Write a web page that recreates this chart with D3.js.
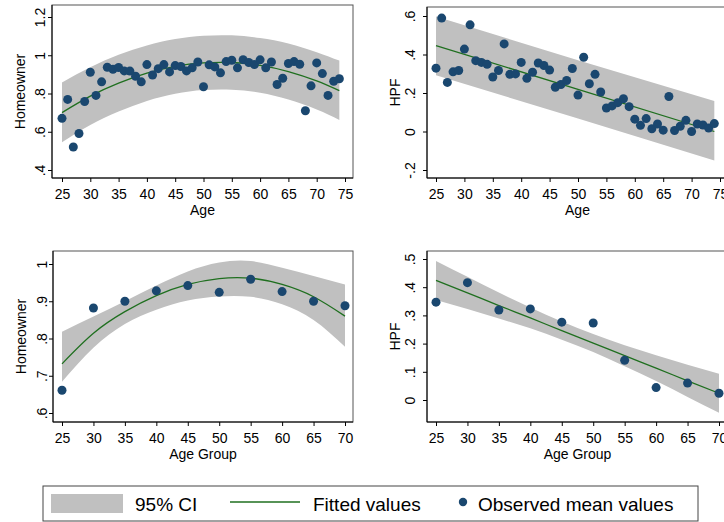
<!DOCTYPE html>
<html>
<head>
<meta charset="utf-8">
<script src="https://cdn.jsdelivr.net/npm/d3@7"></script>
<style>
  body { margin: 0; background: #fff; }
  svg { display: block; font-family: "Liberation Sans", Arial, Helvetica, sans-serif; }
</style>
</head>
<body>
<svg id="chart" width="724" height="522"></svg>
<script>
// single-year ages, top row
var ages = [25,26,27,28,29,30,31,32,33,34,35,36,37,38,39,40,41,42,43,44,
            45,46,47,48,49,50,51,52,53,54,55,56,57,58,59,60,61,62,63,64,
            65,66,67,68,69,70,71,72,73,74];

// observed means by age
var ownerByAge = [0.67,0.769,0.52,0.591,0.758,0.911,0.79,0.861,0.937,0.927,
                  0.936,0.918,0.917,0.89,0.861,0.951,0.897,0.93,0.951,0.913,
                  0.946,0.941,0.918,0.934,0.965,0.835,0.95,0.939,0.908,0.967,
                  0.974,0.934,0.977,0.962,0.951,0.976,0.934,0.965,0.847,0.88,
                  0.957,0.967,0.953,0.71,0.84,0.96,0.904,0.79,0.864,0.877];
var hpfByAge = [0.329,0.589,0.255,0.31,0.317,0.428,0.554,0.368,0.359,0.349,
                0.283,0.317,0.455,0.297,0.299,0.359,0.276,0.308,0.356,0.343,
                0.319,0.23,0.244,0.265,0.327,0.189,0.386,0.248,0.297,0.205,
                0.122,0.133,0.15,0.17,0.129,0.064,0.032,0.067,0.014,0.039,
                0.007,0.182,0.005,0.027,0.058,0.0,0.039,0.034,0.018,0.041];

// fitted values + 95% CI
var fitAgesOwner = [25,30,35,40,45,50,55,60,65,70,74];
var ownerFit = [0.700,0.786,0.854,0.906,0.942,0.960,0.962,0.947,0.915,0.866,0.815];
var ownerHi  = [0.858,0.937,1.002,1.051,1.085,1.102,1.104,1.090,1.062,1.016,0.972];
var ownerLo  = [0.545,0.635,0.706,0.761,0.799,0.818,0.820,0.804,0.768,0.716,0.662];

var fitAgesHpf = [25,50,74];
var hpfFit = [0.446,0.219,0.0];
var hpfHi  = [0.598,0.370,0.159];
var hpfLo  = [0.292,0.068,-0.150];

// age groups, bottom row
var ageGroups = [25,30,35,40,45,50,55,60,65,70];
var ownerByGroup = [0.661,0.882,0.900,0.928,0.942,0.924,0.959,0.926,0.900,0.888];
var ownerGroupFit = [0.732,0.814,0.872,0.915,0.945,0.961,0.962,0.945,0.912,0.860];
var ownerGroupHi  = [0.818,0.859,0.900,0.942,0.980,1.004,1.008,0.990,0.968,0.945];
var ownerGroupLo  = [0.684,0.775,0.839,0.877,0.902,0.913,0.912,0.892,0.850,0.778];

var hpfByGroup = [0.347,0.416,0.319,0.323,0.276,0.273,0.141,0.044,0.060,0.024];
var hpfGroupFit = [0.424,0.380,0.335,0.291,0.246,0.202,0.157,0.113,0.068,0.024];
var hpfGroupHi  = [0.493,0.437,0.381,0.328,0.278,0.234,0.194,0.159,0.125,0.093];
var hpfGroupLo  = [0.355,0.323,0.289,0.254,0.214,0.170,0.120,0.067,0.011,-0.045];

// ticks
var ageTicks = [25,30,35,40,45,50,55,60,65,70,75];
var groupTicks = [25,30,35,40,45,50,55,60,65,70];
var ownerTicks = [0.4,0.6,0.8,1,1.2];
var ownerTickLabels = [".4",".6",".8","1","1.2"];
var hpfTicks = [-0.2,0,0.2,0.4,0.6];
var hpfTickLabels = ["-.2","0",".2",".4",".6"];
var ownerGroupTicks = [0.6,0.7,0.8,0.9,1];
var ownerGroupTickLabels = [".6",".7",".8",".9","1"];
var hpfGroupTicks = [0,0.1,0.2,0.3,0.4,0.5];
var hpfGroupTickLabels = ["0",".1",".2",".3",".4",".5"];

var bandColor = "#c0c0c0", lineColor = "#1f6f1f", dotColor = "#1a476f";

var svg = d3.select("#chart");

var panels = [
  { frame: [52, 5, 353, 178], xr: [62, 345], xd: [25, 75], yd: [0.4, 1.2], yr: [170, 17],
    xTicks: ageTicks, yTicks: ownerTicks, yLabels: ownerTickLabels, xTitle: "Age", yTitle: "Homeowner",
    px: ages, py: ownerByAge, fx: fitAgesOwner, fit: ownerFit, hi: ownerHi, lo: ownerLo,
    curve: d3.curveNatural, tickGap: 7 },
  { frame: [427, 7, 728, 178], xr: [436, 720], xd: [25, 75], yd: [-0.2, 0.6], yr: [170, 16],
    xTicks: ageTicks, yTicks: hpfTicks, yLabels: hpfTickLabels, xTitle: "Age", yTitle: "HPF",
    px: ages, py: hpfByAge, fx: fitAgesHpf, fit: hpfFit, hi: hpfHi, lo: hpfLo,
    curve: d3.curveLinear, tickGap: 12 },
  { frame: [53, 251, 353, 422], xr: [62, 345], xd: [25, 70], yd: [0.6, 1], yr: [413, 264],
    xTicks: groupTicks, yTicks: ownerGroupTicks, yLabels: ownerGroupTickLabels, xTitle: "Age Group", yTitle: "Homeowner",
    px: ageGroups, py: ownerByGroup, fx: ageGroups, fit: ownerGroupFit, hi: ownerGroupHi, lo: ownerGroupLo,
    curve: d3.curveNatural, tickGap: 6 },
  { frame: [427, 251, 728, 422], xr: [436, 719], xd: [25, 70], yd: [0, 0.5], yr: [400, 259],
    xTicks: groupTicks, yTicks: hpfGroupTicks, yLabels: hpfGroupTickLabels, xTitle: "Age Group", yTitle: "HPF",
    px: ageGroups, py: hpfByGroup, fx: ageGroups, fit: hpfGroupFit, hi: hpfGroupHi, lo: hpfGroupLo,
    curve: d3.curveNatural, tickGap: 12 }
];

panels.forEach(drawPanel);

function drawPanel(p) {
  var l = p.frame[0], t = p.frame[1], r = p.frame[2], b = p.frame[3];
  var x = d3.scaleLinear().domain(p.xd).range(p.xr);
  var y = d3.scaleLinear().domain(p.yd).range(p.yr);
  var g = svg.append("g");

  g.append("rect")
    .attr("x", l).attr("y", t).attr("width", r - l).attr("height", b - t)
    .attr("fill", "#fff").attr("stroke", "#555").attr("stroke-width", 1);

  var band = p.fx.map(function(a, i) { return { a: a, lo: p.lo[i], hi: p.hi[i], f: p.fit[i] }; });

  g.append("path")
    .datum(band)
    .attr("fill", bandColor)
    .attr("d", d3.area().curve(p.curve)
      .x(function(d) { return x(d.a); })
      .y0(function(d) { return y(d.lo); })
      .y1(function(d) { return y(d.hi); }));

  g.append("path")
    .datum(band)
    .attr("fill", "none")
    .attr("stroke", lineColor)
    .attr("stroke-width", 1.3)
    .attr("d", d3.line().curve(p.curve)
      .x(function(d) { return x(d.a); })
      .y(function(d) { return y(d.f); }));

  g.selectAll("circle.obs")
    .data(p.px.map(function(a, i) { return [a, p.py[i]]; }))
    .enter().append("circle")
    .attr("class", "obs")
    .attr("cx", function(d) { return x(d[0]); })
    .attr("cy", function(d) { return y(d[1]); })
    .attr("r", 4.5)
    .attr("fill", dotColor);

  // x axis
  var xa = g.append("g").attr("transform", "translate(0," + b + ")")
    .call(d3.axisBottom(x).tickValues(p.xTicks).tickSize(4).tickSizeOuter(0).tickFormat(d3.format("d")));
  xa.select(".domain").remove();
  xa.selectAll("line").attr("stroke", "#000");
  xa.selectAll("text").attr("y", 21).attr("dy", 0)
    .style("font-size", "14px").attr("fill", "#000");

  // y axis, labels turned like Stata
  var ya = g.append("g").attr("transform", "translate(" + l + ",0)")
    .call(d3.axisLeft(y).tickValues(p.yTicks).tickSize(4).tickSizeOuter(0)
      .tickFormat(function(d, i) { return p.yLabels[i]; }));
  ya.select(".domain").remove();
  ya.selectAll("line").attr("stroke", "#000");
  ya.selectAll("text")
    .attr("x", 0).attr("y", -p.tickGap).attr("dy", 0)
    .attr("text-anchor", "middle")
    .attr("transform", "rotate(-90)")
    .style("font-size", "14px").attr("fill", "#000");

  g.append("line").attr("x1", l).attr("x2", l).attr("y1", t).attr("y2", b).attr("stroke", "#000");
  g.append("line").attr("x1", l).attr("x2", r).attr("y1", b).attr("y2", b).attr("stroke", "#000");

  g.append("text")
    .attr("x", (l + r) / 2).attr("y", b + 37)
    .attr("text-anchor", "middle")
    .style("font-size", "14px")
    .text(p.xTitle);

  g.append("text")
    .attr("transform", "translate(" + (l - 27) + "," + ((t + b) / 2) + ") rotate(-90)")
    .attr("text-anchor", "middle")
    .style("font-size", "14px")
    .text(p.yTitle);
}

// legend
var legend = svg.append("g");
legend.append("rect")
  .attr("x", 43).attr("y", 486).attr("width", 655).attr("height", 35)
  .attr("fill", "#fff").attr("stroke", "#444");
legend.append("rect")
  .attr("x", 51).attr("y", 494).attr("width", 72).attr("height", 19)
  .attr("fill", bandColor);
legend.append("text").attr("x", 135).attr("y", 511).style("font-size", "19px").text("95% CI");
legend.append("line")
  .attr("x1", 230).attr("x2", 300).attr("y1", 502).attr("y2", 502)
  .attr("stroke", lineColor).attr("stroke-width", 1.3);
legend.append("text").attr("x", 313).attr("y", 511).style("font-size", "19px").text("Fitted values");
legend.append("circle").attr("cx", 463).attr("cy", 502).attr("r", 4.2).attr("fill", dotColor);
legend.append("text").attr("x", 478).attr("y", 511).style("font-size", "19px").text("Observed mean values");
</script>
</body>
</html>
